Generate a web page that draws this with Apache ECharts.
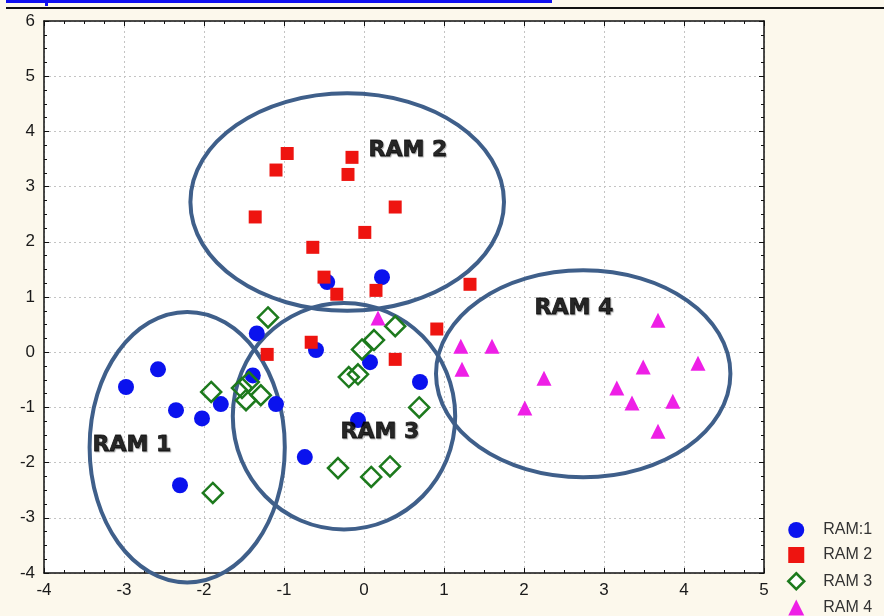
<!DOCTYPE html>
<html><head><meta charset="utf-8">
<script src="https://cdn.jsdelivr.net/npm/echarts@6/dist/echarts.min.js"></script>
<style>html,body{margin:0;padding:0;background:#fcf8ec}#c{width:884px;height:616px}</style>
</head><body><div id="c"></div>
<script>
// Axis ranges / ticks
const xRange = [-4, 5];
const yRange = [-4, 6];
const tickStep = 1;

// Series names
const seriesNames = ['RAM:1', 'RAM 2', 'RAM 3', 'RAM 4'];

// RAM:1 (blue circles)
const ram1 = [
  [-2.975, -0.63], [-2.575, -0.31], [-2.35, -1.05], [-2.025, -1.20], [-1.79, -0.94],
  [-1.34, 0.34], [-1.39, -0.42], [-1.10, -0.94], [-2.30, -2.41], [-0.74, -1.90],
  [-0.60, 0.04], [0.075, -0.18], [0.70, -0.54], [-0.075, -1.23], [-0.46, 1.27], [0.225, 1.36]
];
// RAM 2 (red squares)
const ram2 = [
  [-0.96, 3.60], [-1.10, 3.30], [-0.15, 3.53], [-0.20, 3.22], [-1.36, 2.45], [0.39, 2.63],
  [0.01, 2.17], [-0.64, 1.90], [-0.50, 1.36], [-0.34, 1.05], [0.15, 1.12], [1.325, 1.23],
  [0.91, 0.42], [-0.66, 0.18], [-1.21, -0.04], [0.39, -0.13]
];
// RAM 3 (green hollow diamonds)
const ram3 = [
  [-1.20, 0.63], [-1.91, -0.72], [-1.525, -0.65], [-1.44, -0.54], [-1.475, -0.87], [-1.29, -0.78],
  [-1.89, -2.55], [0.39, 0.47], [0.125, 0.22], [-0.025, 0.05], [-0.19, -0.45], [-0.075, -0.40],
  [0.69, -1.00], [-0.325, -2.10], [0.09, -2.26], [0.325, -2.07]
];
// RAM 4 (magenta triangles)
const ram4 = [
  [1.21, 0.11], [1.60, 0.11], [1.225, -0.31], [2.25, -0.47], [2.01, -1.01], [3.675, 0.58],
  [3.49, -0.27], [4.175, -0.20], [3.16, -0.65], [3.35, -0.92], [3.86, -0.89], [3.675, -1.43],
  [0.175, 0.62]
];

// Cluster ellipses: [centerX, centerY, radiusX, radiusY]
const ellipses = [
  [-2.21, -1.72, 1.22, 2.45],
  [-0.21, 2.72, 1.96, 1.97],
  [-0.25, -1.16, 1.39, 2.05],
  [2.74, -0.39, 1.84, 1.875]
];

// Cluster labels
const clusterLabels = ['RAM 1', 'RAM 2', 'RAM 3', 'RAM 4'];
const clusterLabelPos = [[-2.9, -1.68], [0.55, 3.66], [0.2, -1.45], [2.625, 0.80]];

const colors = { blue: '#0a12ee', red: '#ee1410', green: '#1d7a1d', magenta: '#ee1fe6', ring: '#3f5f8a' };

const chart = echarts.init(document.getElementById('c'), null, { renderer: 'canvas' });

const axisCommon = {
  type: 'value',
  interval: tickStep,
  axisLine: { show: true, onZero: false, lineStyle: { color: '#111', width: 1.5 } },
  axisTick: { show: true, inside: true, length: 5, lineStyle: { color: '#111', width: 1 } },
  minorTick: { show: true, splitNumber: 4, length: 3, lineStyle: { color: '#111', width: 1 } }
};
const labelStyle = { color: '#1a1a1a', fontSize: 17, fontFamily: 'Liberation Sans, Arial, sans-serif', margin: 9 };
const gridLine = { show: true, lineStyle: { color: '#c4c4c4', type: [2, 3], width: 1 } };

const option = {
  backgroundColor: '#fcf8ec',
  animation: false,
  grid: { left: 44, right: 120, top: 21, bottom: 43, show: true, backgroundColor: '#ffffff', borderWidth: 0 },
  xAxis: [
    Object.assign({}, axisCommon, { min: xRange[0], max: xRange[1], position: 'bottom', axisLabel: labelStyle, splitLine: gridLine }),
    Object.assign({}, axisCommon, { min: xRange[0], max: xRange[1], position: 'top', axisLabel: { show: false }, splitLine: { show: false } })
  ],
  yAxis: [
    Object.assign({}, axisCommon, { min: yRange[0], max: yRange[1], position: 'left', axisLabel: labelStyle, splitLine: gridLine }),
    Object.assign({}, axisCommon, { min: yRange[0], max: yRange[1], position: 'right', axisLabel: { show: false }, splitLine: { show: false } })
  ],
  legend: {
    orient: 'vertical',
    left: 787,
    top: 522,
    padding: 0,
    itemWidth: 16,
    itemHeight: 16,
    itemGap: 9,
    textStyle: { color: '#333', fontSize: 16, fontFamily: 'Liberation Sans, Arial, sans-serif', padding: [0, 0, 0, 14] },
    data: [
      { name: seriesNames[0], icon: 'circle', itemStyle: { color: colors.blue } },
      { name: seriesNames[1], icon: 'rect', itemStyle: { color: colors.red } },
      { name: seriesNames[2], icon: 'diamond', itemStyle: { color: '#fff', borderColor: colors.green, borderWidth: 2.5 } },
      { name: seriesNames[3], icon: 'triangle', itemStyle: { color: colors.magenta } }
    ]
  },
  graphic: [
    { type: 'rect', shape: { x: 6, y: 0, width: 546, height: 3 }, style: { fill: '#1010f0' } },
    { type: 'rect', shape: { x: 45, y: 0, width: 3, height: 6 }, style: { fill: '#1010f0' } },
    { type: 'rect', shape: { x: 6, y: 7, width: 878, height: 2 }, style: { fill: '#111' } }
  ],
  series: [
    {
      type: 'custom',
      name: 'rings',
      clip: false,
      z: 3,
      data: ellipses,
      renderItem: function (params, api) {
        const c = api.coord([api.value(0), api.value(1)]);
        const s = api.size([api.value(2), api.value(3)]);
        return {
          type: 'ellipse',
          shape: { cx: c[0], cy: c[1], rx: s[0], ry: s[1] },
          style: { fill: 'none', stroke: colors.ring, lineWidth: 4 }
        };
      }
    },
    {
      type: 'scatter', name: seriesNames[0], data: ram1, symbol: 'circle', symbolSize: 16, z: 4,
      itemStyle: { color: colors.blue, opacity: 1 }
    },
    {
      type: 'scatter', name: seriesNames[1], data: ram2, symbol: 'rect', symbolSize: 13, z: 4,
      itemStyle: { color: colors.red, opacity: 1 }
    },
    {
      type: 'scatter', name: seriesNames[2], data: ram3, symbol: 'diamond', symbolSize: 20, z: 4,
      itemStyle: { color: 'rgba(255,255,255,0)', borderColor: colors.green, borderWidth: 2.5, opacity: 1 }
    },
    {
      type: 'scatter', name: seriesNames[3], data: ram4, symbol: 'triangle', symbolSize: 15, z: 4,
      itemStyle: { color: colors.magenta, opacity: 1 }
    },
    {
      type: 'scatter', name: 'labels', z: 5, symbolSize: 1,
      itemStyle: { color: 'rgba(0,0,0,0)' },
      data: clusterLabelPos.map((p, i) => ({ value: p, name: clusterLabels[i] })),
      label: {
        show: true, position: 'inside', formatter: '{b}',
        color: '#000', fontSize: 22, fontWeight: 'bold', fontFamily: 'DejaVu Sans, sans-serif',
        textBorderColor: '#000', textBorderWidth: 0.8,
        textShadowColor: 'rgba(0,0,0,0.3)', textShadowBlur: 1, textShadowOffsetX: 1, textShadowOffsetY: 1
      },
      emphasis: { disabled: true },
      silent: true
    }
  ]
};
chart.setOption(option);
</script>
</body></html>
